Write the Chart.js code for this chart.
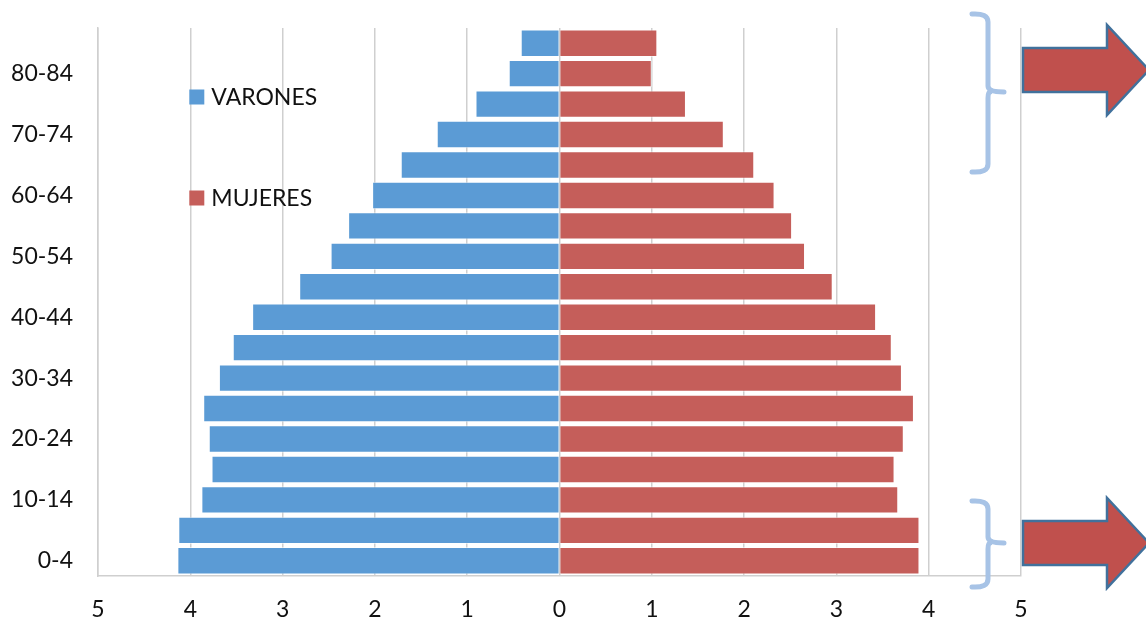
<!DOCTYPE html>
<html>
<head>
<meta charset="utf-8">
<script src="https://cdn.jsdelivr.net/npm/chart.js@4/dist/chart.umd.min.js"></script>
<style>
  html, body { margin: 0; padding: 0; background: #fff; }
  #wrap { width: 1146px; height: 620px; position: relative; }
</style>
</head>
<body>
<div id="wrap"><canvas id="c" width="1146" height="620"></canvas></div>
<script>
// Age groups, bottom to top
const ages = ['0-4','5-9','10-14','15-19','20-24','25-29','30-34','35-39','40-44','45-49','50-54','55-59','60-64','65-69','70-74','75-79','80-84','85+'];
// Percent of population
const varones = [4.14, 4.13, 3.88, 3.77, 3.80, 3.86, 3.69, 3.54, 3.33, 2.82, 2.48, 2.29, 2.03, 1.72, 1.33, 0.91, 0.55, 0.42];
const mujeres = [3.90, 3.90, 3.67, 3.63, 3.73, 3.84, 3.71, 3.60, 3.43, 2.96, 2.66, 2.52, 2.33, 2.11, 1.78, 1.37, 1.00, 1.06];
const seriesNames = ['VARONES', 'MUJERES'];
const xTicks = [-5, -4, -3, -2, -1, 0, 1, 2, 3, 4, 5];

const BLUE = '#5B9BD5';
const RED = '#C55E5A';
const FONT = 'Lato, "Open Sans", sans-serif';

const decorations = {
  id: 'decorations',
  afterDraw(chart) {
    const ctx = chart.ctx;
    const ca = chart.chartArea;
    ctx.save();
    // In-plot legend
    const items = [
      { name: seriesNames[0], color: BLUE, y: 97 },
      { name: seriesNames[1], color: RED, y: 198 }
    ];
    const lx = chart.scales.x.getPixelForValue(-4);
    ctx.font = '23px ' + FONT;
    ctx.textBaseline = 'middle';
    ctx.textAlign = 'left';
    items.forEach(it => {
      ctx.fillStyle = it.color;
      ctx.fillRect(lx - 1, it.y - 7.5, 15, 15);
      ctx.fillStyle = '#111';
      ctx.fillText(it.name, lx + 21, it.y + 1);
    });

    // Braces
    const R = ca.right;
    ctx.strokeStyle = '#A7C3E6';
    ctx.lineWidth = 5;
    ctx.lineCap = 'round';
    ctx.lineJoin = 'round';
    function brace(top, mid, bot) {
      const x0 = R - 49, x1 = R - 33, xn = R - 17;
      ctx.beginPath();
      ctx.moveTo(x0, top);
      ctx.quadraticCurveTo(x1, top - 1, x1, top + 8);
      ctx.lineTo(x1, mid - 6);
      ctx.quadraticCurveTo(x1, mid, xn, mid);
      ctx.moveTo(x1 + 2, mid);
      ctx.quadraticCurveTo(x1, mid, x1, mid + 6);
      ctx.lineTo(x1, bot - 8);
      ctx.quadraticCurveTo(x1, bot + 1, x0, bot);
      ctx.stroke();
    }
    brace(14, 92, 172);
    brace(501, 543, 587);

    // Arrows
    function arrow(cy) {
      const xs = R + 2, xh = R + 86, xt = R + 128;
      ctx.beginPath();
      ctx.moveTo(xs, cy - 22);
      ctx.lineTo(xh, cy - 22);
      ctx.lineTo(xh, cy - 45);
      ctx.lineTo(xt, cy);
      ctx.lineTo(xh, cy + 45);
      ctx.lineTo(xh, cy + 22);
      ctx.lineTo(xs, cy + 22);
      ctx.closePath();
      ctx.fillStyle = '#C0504D';
      ctx.fill();
      ctx.strokeStyle = '#41719C';
      ctx.lineWidth = 2.5;
      ctx.lineJoin = 'miter';
      ctx.stroke();
    }
    arrow(70);
    arrow(543);
    ctx.restore();
  }
};

new Chart(document.getElementById('c'), {
  type: 'bar',
  data: {
    labels: ages,
    datasets: [
      {
        label: seriesNames[0],
        data: varones.map(v => -v),
        backgroundColor: BLUE,
        borderColor: 'rgba(255,255,255,0.55)',
        borderWidth: 1,
        barPercentage: 0.9,
        categoryPercentage: 1.0
      },
      {
        label: seriesNames[1],
        data: mujeres,
        backgroundColor: RED,
        borderColor: 'rgba(255,255,255,0.55)',
        borderWidth: 1,
        barPercentage: 0.9,
        categoryPercentage: 1.0
      }
    ]
  },
  options: {
    indexAxis: 'y',
    responsive: false,
    animation: false,
    layout: { padding: { top: 28, right: 125, left: 0, bottom: 0 } },
    plugins: {
      legend: { display: false },
      tooltip: { enabled: false }
    },
    scales: {
      x: {
        stacked: true,
        min: -5,
        max: 5,
        afterBuildTicks(scale) { scale.ticks = xTicks.map(v => ({ value: v })); },
        afterFit(scale) { scale.height = 44; scale.paddingLeft = 0; scale.paddingRight = 0; },
        grid: { color: '#CFCFCF', lineWidth: 1.5, drawTicks: false },
        border: { display: true, color: '#CFCFCF', width: 1.5 },
        ticks: {
          padding: 20,
          color: '#111',
          font: { family: FONT, size: 23 },
          callback: v => String(Math.abs(v))
        }
      },
      y: {
        stacked: true,
        reverse: true,
        afterFit(scale) { scale.width = 98; scale.paddingTop = 0; scale.paddingBottom = 0; },
        grid: { display: false, drawTicks: false },
        border: { display: true, color: '#CFCFCF', width: 1.5 },
        ticks: {
          autoSkip: false,
          padding: 25,
          color: '#111',
          font: { family: FONT, size: 23 },
          callback: (v, i) => (i % 2 === 0 ? ages[i] : '')
        }
      }
    }
  },
  plugins: [decorations]
});
</script>
</body>
</html>
